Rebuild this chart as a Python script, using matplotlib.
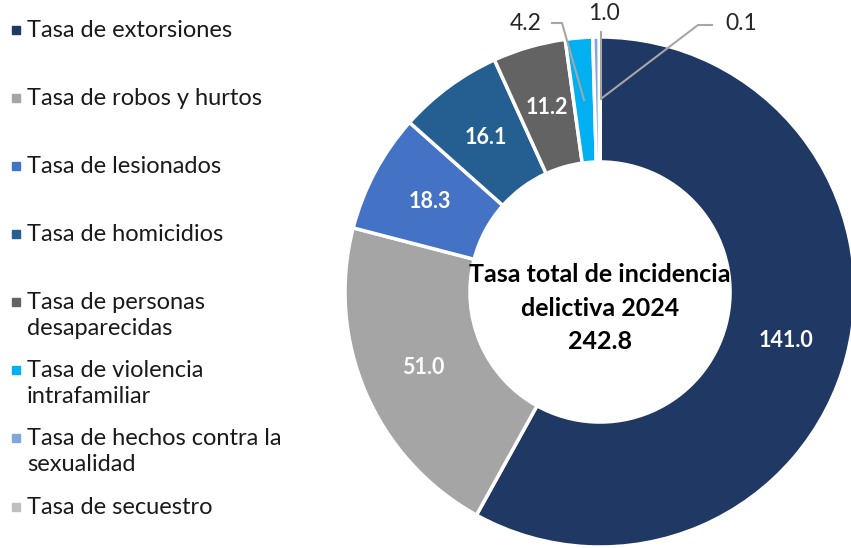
import numpy as np
import matplotlib
matplotlib.use("Agg")
import matplotlib.pyplot as plt
from matplotlib.patches import Rectangle

# data
categories = [
    "Tasa de extorsiones",
    "Tasa de robos y hurtos",
    "Tasa de lesionados",
    "Tasa de homicidios",
    "Tasa de personas\ndesaparecidas",
    "Tasa de violencia\nintrafamiliar",
    "Tasa de hechos contra la\nsexualidad",
    "Tasa de secuestro",
]
values = [141.0, 51.0, 18.3, 16.1, 11.2, 4.2, 1.0, 0.1]
value_labels = ["141.0", "51.0", "18.3", "16.1", "11.2", "4.2", "1.0", "0.1"]
colors = ["#203864", "#A5A5A5", "#4472C4", "#255E91",
          "#636363", "#00B0F0", "#7FA7DA", "#BFBFBF"]
center_text = "Tasa total de incidencia\ndelictiva 2024\n242.8"

W, H = 851, 548
R = 255.0          # outer radius in px
CX, CY = 600, 292  # donut centre in px (from top)

fig = plt.figure(figsize=(W / 100, H / 100), dpi=100)
ax = fig.add_axes([0, 0, 1, 1])
ax.axis("off")

def px(x, y):
    # pixel (from top-left) -> figure fraction
    return x / W, 1 - y / H

def dpx(x, y):
    # pixel -> data coords
    return (x - CX) / R, (CY - y) / R

wedges, _ = ax.pie(values, colors=colors, startangle=90, counterclock=False,
                   radius=1, wedgeprops=dict(width=0.49, edgecolor="white", linewidth=2.5))
ax.set_xlim(-CX / R, (W - CX) / R)
ax.set_ylim(-(H - CY) / R, CY / R)
ax.set_aspect("auto")

# value labels
total = sum(values)
cum = np.cumsum([0] + values)
mid_angles = [np.deg2rad(90 - (cum[i] + values[i] / 2) / total * 360) for i in range(len(values))]
lab_r = 0.755
for i, v in enumerate(values):
    if v >= 10:
        a = mid_angles[i]
        ax.text(lab_r * np.cos(a), lab_r * np.sin(a), value_labels[i], color="white",
                fontsize=15.5, family="Lato", fontweight="bold",
                ha="center", va="center")

# small slices with leader lines
line_kw = dict(color="#A6A6A6", lw=1.5)
outside = {
    5: dict(text=dpx(542, 24), ha="right", path=[dpx(552, 23), dpx(562, 23)]),
    6: dict(text=dpx(604, 13), ha="center", path=[dpx(601, 32)]),
    7: dict(text=dpx(725, 24), ha="left", path=[dpx(712, 25), dpx(698, 25)]),
}
for i, o in outside.items():
    a = mid_angles[i]
    end = (lab_r * np.cos(a), lab_r * np.sin(a))
    if i == 6:
        end = (o["path"][0][0], end[1])
    if i == 7:
        end = dpx(602, 98)
    pts = o["path"] + [end]
    ax.plot([p[0] for p in pts], [p[1] for p in pts], **line_kw)
    ax.text(o["text"][0], o["text"][1], value_labels[i], color="#262626",
            fontsize=16.5, family="Lato", ha=o["ha"], va="center")

# centre text
ax.text(0, dpx(0, 308)[1], center_text, ha="center", va="center", fontsize=18,
        fontweight="bold", family="Lato", color="black", linespacing=1.56)

# legend
row_y = [30, 98, 166, 234, 302, 370, 438, 507]
for lab, c, y in zip(categories, colors, row_y):
    fx, fy = px(12, y + 4)
    fig.patches.append(Rectangle((fx, fy), 8 / W, 8 / H, color=c,
                                 transform=fig.transFigure, figure=fig))
    tx, ty = px(27, y - 10)
    fig.text(tx, ty, lab, fontsize=17, family="Lato", color="#1a1a1a",
             ha="left", va="top", linespacing=1.31)

fig.savefig("out.png", dpi=100)
